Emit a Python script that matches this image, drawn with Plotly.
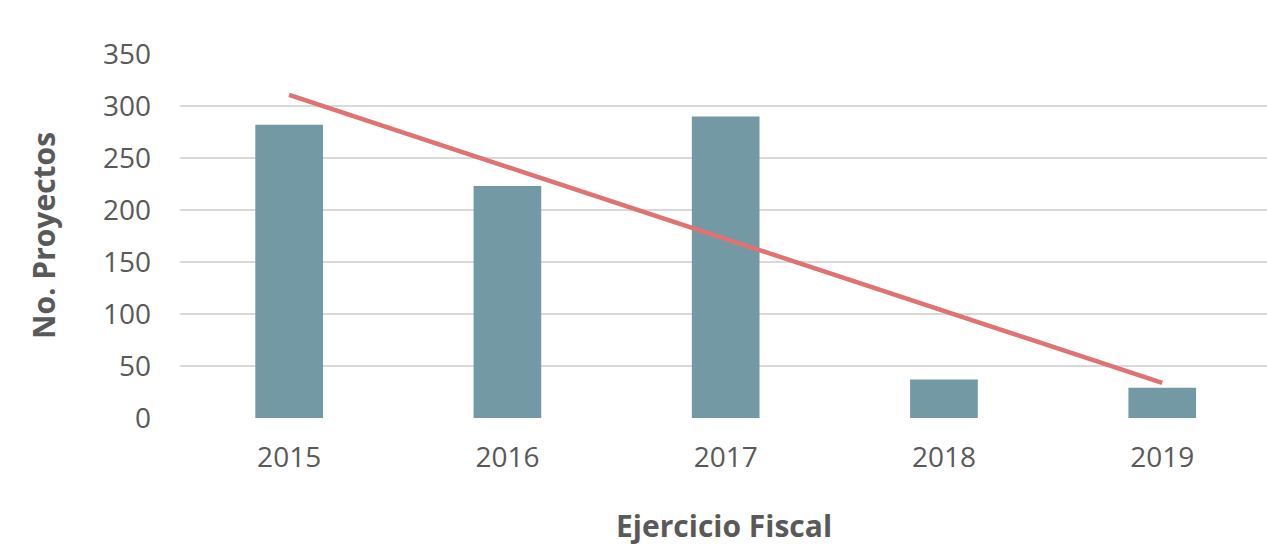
import numpy as np
import plotly.graph_objects as go

# Projects per fiscal year
years = ["2015", "2016", "2017", "2018", "2019"]
proyectos = [282, 223, 290, 37, 29]
y_ticks = [0, 50, 100, 150, 200, 250, 300, 350]

# Linear trend fitted to the yearly counts
idx = np.arange(len(years))
slope, intercept = np.polyfit(idx, proyectos, 1)
trend = [intercept + slope * idx[0], intercept + slope * idx[-1]]

BAR = "#7399A5"
TREND = "#E07272"
TEXT = "#595959"
GRID = "#D9D9D9"
FONT = "Open Sans, Lato, sans-serif"

fig = go.Figure()
fig.add_trace(go.Bar(
    x=years, y=proyectos, marker=dict(color=BAR, line=dict(width=0)),
    width=0.31, showlegend=False, hoverinfo="x+y",
))
fig.add_trace(go.Scatter(
    x=[years[0], years[-1]], y=trend, mode="lines",
    line=dict(color=TREND, width=4.5), showlegend=False,
))

fig.update_layout(
    width=1267, height=559,
    margin=dict(l=180, r=0, t=54, b=141),
    paper_bgcolor="white", plot_bgcolor="white",
    font=dict(family=FONT, color=TEXT, size=28),
    xaxis=dict(
        type="category", range=[-0.5, 4.48],
        showgrid=False, zeroline=False, showline=False,
        ticks="", ticklabelstandoff=20,
        tickfont=dict(size=28, color=TEXT),
    ),
    yaxis=dict(
        range=[0, 350], tickvals=y_ticks,
        showgrid=True, gridcolor=GRID, gridwidth=2,
        zeroline=False, showline=False, ticks="",
        ticklabelstandoff=28,
        tickfont=dict(size=28, color=TEXT),
    ),
    annotations=[
        dict(text="<b>No. Proyectos</b>", textangle=-90,
             xref="paper", yref="paper", x=0, y=0.5,
             xanchor="center", yanchor="middle", xshift=-137, yshift=0,
             showarrow=False, font=dict(size=30, color=TEXT, family=FONT)),
        dict(text="<b>Ejercicio Fiscal</b>",
             xref="paper", yref="paper", x=0.5, y=0,
             xanchor="center", yanchor="middle", yshift=-107,
             showarrow=False, font=dict(size=30, color=TEXT, family=FONT)),
    ],
)

fig.write_html("out.html")
